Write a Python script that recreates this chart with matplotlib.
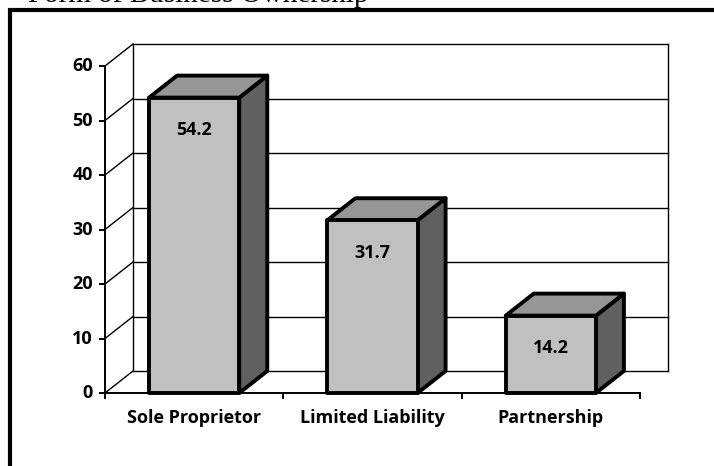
import matplotlib.pyplot as plt
from matplotlib.patches import Polygon, Rectangle
from matplotlib.lines import Line2D

categories = ['Sole Proprietor', 'Limited Liability', 'Partnership']
values = [54.2, 31.7, 14.2]
y_ticks = [0, 10, 20, 30, 40, 50, 60]
caption = 'Form of Business Ownership'

W, H = 714, 466
fig = plt.figure(figsize=(W / 100, H / 100), dpi=100)

# front plane of the 3d box, in pixels of the reference
left_px, right_px, bottom_px, top_px = 105, 640, 393, 66
ax = fig.add_axes([left_px / W, 1 - bottom_px / H,
                   (right_px - left_px) / W, (bottom_px - top_px) / H])
ax.set_xlim(0, len(categories))
ax.set_ylim(0, 60)
ax.axis('off')

# depth of the box (28 px right, 22 px up) converted to data units
dx = 28 / (right_px - left_px) * len(categories)
dy = 22 / (bottom_px - top_px) * 60

font = 'Open Sans'
fsize = 13
grid_kw = dict(color='black', lw=1.0, zorder=1, clip_on=False)

# back wall + gridlines
n = len(categories)
for t in y_ticks:
    ax.add_line(Line2D([dx, n + dx], [t + dy, t + dy], **grid_kw))
    ax.add_line(Line2D([0, dx], [t, t + dy], **grid_kw))
ax.add_line(Line2D([dx, dx], [dy, 60 + dy], **grid_kw))
ax.add_line(Line2D([n + dx, n + dx], [dy, 60 + dy], **grid_kw))

# front axes lines
ax.add_line(Line2D([0, 0], [0, 60], color='black', lw=1.4, zorder=2, clip_on=False))
ax.add_line(Line2D([0, n], [0, 0], color='black', lw=1.4, zorder=2, clip_on=False))

# tick marks and labels (drawn by hand so they sit on the front plane)
tick_x = 5 / (right_px - left_px) * n
tick_y = 5 / (bottom_px - top_px) * 60
for t in y_ticks:
    ax.add_line(Line2D([-tick_x, 0], [t, t], color='black', lw=1.4, clip_on=False))
    ax.text(-12 / (right_px - left_px) * n, t, str(t), ha='right', va='center',
            fontsize=fsize, fontweight='bold', family=font)
for i in range(n + 1):
    ax.add_line(Line2D([i, i], [-tick_y, 0], color='black', lw=1.4, clip_on=False))

bar_w = 90 / 178
for i, (cat, v) in enumerate(zip(categories, values)):
    x0 = i + 0.5 - bar_w / 2
    x1 = x0 + bar_w
    z = 3 + i
    side = Polygon([(x1, 0), (x1, v), (x1 + dx, v + dy), (x1 + dx, dy)],
                   closed=True, facecolor='#606060', edgecolor='black',
                   lw=2.8, joinstyle='round', zorder=z, clip_on=False)
    top = Polygon([(x0, v), (x1, v), (x1 + dx, v + dy), (x0 + dx, v + dy)],
                  closed=True, facecolor='#969696', edgecolor='black',
                  lw=2.8, joinstyle='round', zorder=z, clip_on=False)
    front = Rectangle((x0, 0), bar_w, v, facecolor='#c0c0c0', edgecolor='black',
                      lw=2.8, joinstyle='round', zorder=z + 0.1, clip_on=False)
    ax.add_patch(side)
    ax.add_patch(top)
    ax.add_patch(front)
    ax.text(i + 0.5, v - 6, f'{v:.1f}', ha='center', va='center',
            fontsize=fsize, fontweight='bold', family=font, zorder=z + 0.2)
    ax.text(i + 0.5, -4.6, cat, ha='center', va='center',
            fontsize=fsize, fontweight='bold', family=font)

# outer frame (only top and left edges are inside the picture)
fig.add_artist(Rectangle((9.5 / W, -0.1), 1.2, 1.1 - 10 / H, transform=fig.transFigure,
                         fill=False, edgecolor='black', lw=3.0))

# caption cut off at the very top of the picture, as in the reference
fig.text(28 / W, 1 - 1.5 / H, caption, ha='left', va='baseline',
         fontsize=21, family='Liberation Serif')

fig.savefig('out.png', dpi=100)
